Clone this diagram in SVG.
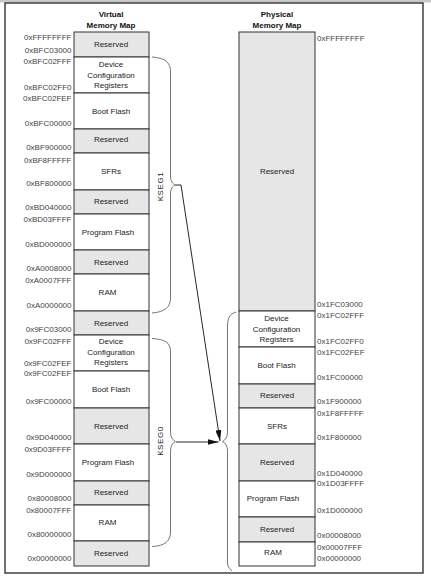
<svg xmlns="http://www.w3.org/2000/svg" width="431" height="580" viewBox="0 0 431 580">
<defs>
<style>
text{font-family:"Liberation Sans",Arial,sans-serif;font-size:8px;fill:#222}
.t{font-weight:bold;text-anchor:middle;fill:#111}
.b{text-anchor:middle}
.al{text-anchor:end;fill:#444}
.ar{text-anchor:start;fill:#444}
.g{fill:#e6e6e6;stroke:#333;stroke-width:1}
.w{fill:#fff;stroke:#333;stroke-width:1}
.br{fill:none;stroke:#666;stroke-width:0.9}
.cn{fill:none;stroke:#111;stroke-width:0.9}
.seg{text-anchor:middle;letter-spacing:0.6px;fill:#222}
</style>
<marker id="ah" markerWidth="11" markerHeight="6" refX="11" refY="3" orient="auto" markerUnits="userSpaceOnUse">
<path d="M0,0 L11,3 L0,6 z" fill="#111"/>
</marker>
</defs>
<rect x="0" y="0" width="431" height="2.5" fill="#c8c8c8"/>
<rect x="5" y="3" width="418" height="570" fill="#fff" stroke="#111" stroke-width="1.2"/>

<text class="t" x="111" y="17">Virtual</text>
<text class="t" x="111" y="27.5">Memory Map</text>
<text class="t" x="277" y="17">Physical</text>
<text class="t" x="277" y="27.5">Memory Map</text>

<g id="virtual-map">
<g id="v-reserved-1"><rect class="g" x="74" y="32" width="75" height="25"/><text class="b" x="111" y="47">Reserved</text></g>
<g id="v-devcfg-1"><rect class="w" x="74" y="57" width="75" height="36"/><text class="b" x="111" y="67">Device</text><text class="b" x="111" y="77.5">Configuration</text><text class="b" x="111" y="88">Registers</text></g>
<g id="v-boot-1"><rect class="w" x="74" y="93" width="75" height="36"/><text class="b" x="111" y="114">Boot Flash</text></g>
<g id="v-reserved-2"><rect class="g" x="74" y="129" width="75" height="24"/><text class="b" x="111" y="142">Reserved</text></g>
<g id="v-sfrs"><rect class="w" x="74" y="153" width="75" height="37"/><text class="b" x="111" y="174">SFRs</text></g>
<g id="v-reserved-3"><rect class="g" x="74" y="190" width="75" height="24"/><text class="b" x="111" y="204">Reserved</text></g>
<g id="v-pflash-1"><rect class="w" x="74" y="214" width="75" height="36"/><text class="b" x="108" y="235">Program Flash</text></g>
<g id="v-reserved-4"><rect class="g" x="74" y="250" width="75" height="24"/><text class="b" x="111" y="265">Reserved</text></g>
<g id="v-ram-1"><rect class="w" x="74" y="274" width="75" height="37"/><text class="b" x="107.5" y="295">RAM</text></g>
<g id="v-reserved-5"><rect class="g" x="74" y="311" width="75" height="24"/><text class="b" x="111" y="326">Reserved</text></g>
<g id="v-devcfg-0"><rect class="w" x="74" y="335" width="75" height="36"/><text class="b" x="111" y="344">Device</text><text class="b" x="111" y="354.5">Configuration</text><text class="b" x="111" y="364.5">Registers</text></g>
<g id="v-boot-0"><rect class="w" x="74" y="371" width="75" height="37"/><text class="b" x="111" y="392">Boot Flash</text></g>
<g id="v-reserved-6"><rect class="g" x="74" y="408" width="75" height="36"/><text class="b" x="111" y="429">Reserved</text></g>
<g id="v-pflash-0"><rect class="w" x="74" y="444" width="75" height="37"/><text class="b" x="108" y="465">Program Flash</text></g>
<g id="v-reserved-7"><rect class="g" x="74" y="481" width="75" height="24"/><text class="b" x="111" y="495">Reserved</text></g>
<g id="v-ram-0"><rect class="w" x="74" y="505" width="75" height="36"/><text class="b" x="107.5" y="525">RAM</text></g>
<g id="v-reserved-8"><rect class="g" x="74" y="541" width="75" height="25"/><text class="b" x="111" y="556">Reserved</text></g>
</g>

<g id="virtual-addresses">
<text class="al" x="71.5" y="39.5">0xFFFFFFFF</text>
<text class="al" x="71.5" y="53">0xBFC03000</text>
<text class="al" x="71.5" y="64">0xBFC02FFF</text>
<text class="al" x="71.5" y="90">0xBFC02FF0</text>
<text class="al" x="71.5" y="101">0xBFC02FEF</text>
<text class="al" x="71.5" y="126">0xBFC00000</text>
<text class="al" x="71.5" y="150">0xBF900000</text>
<text class="al" x="71.5" y="163">0xBF8FFFFF</text>
<text class="al" x="71.5" y="186">0xBF800000</text>
<text class="al" x="71.5" y="210">0xBD040000</text>
<text class="al" x="71.5" y="221.5">0xBD03FFFF</text>
<text class="al" x="71.5" y="246.5">0xBD000000</text>
<text class="al" x="71.5" y="271">0xA0008000</text>
<text class="al" x="71.5" y="283">0xA0007FFF</text>
<text class="al" x="71.5" y="307.5">0xA0000000</text>
<text class="al" x="71.5" y="331.5">0x9FC03000</text>
<text class="al" x="71.5" y="343.5">0x9FC02FFF</text>
<text class="al" x="71.5" y="366">0x9FC02FEF</text>
<text class="al" x="71.5" y="376">0x9FC02FEF</text>
<text class="al" x="71.5" y="404">0x9FC00000</text>
<text class="al" x="71.5" y="440">0x9D040000</text>
<text class="al" x="71.5" y="452">0x9D03FFFF</text>
<text class="al" x="71.5" y="477">0x9D000000</text>
<text class="al" x="71.5" y="501">0x80008000</text>
<text class="al" x="71.5" y="513">0x80007FFF</text>
<text class="al" x="71.5" y="537">0x80000000</text>
<text class="al" x="71.5" y="561">0x00000000</text>
</g>

<g id="physical-map">
<g id="p-reserved-top"><rect class="g" x="239" y="32" width="76" height="279"/><text class="b" x="277" y="174">Reserved</text></g>
<g id="p-devcfg"><rect class="w" x="239" y="311" width="76" height="36"/><text class="b" x="276.5" y="321">Device</text><text class="b" x="276.5" y="332">Configuration</text><text class="b" x="276.5" y="342">Registers</text></g>
<g id="p-boot"><rect class="w" x="239" y="347" width="76" height="37"/><text class="b" x="276.5" y="368">Boot Flash</text></g>
<g id="p-reserved-2"><rect class="g" x="239" y="384" width="76" height="24"/><text class="b" x="277" y="398">Reserved</text></g>
<g id="p-sfrs"><rect class="w" x="239" y="408" width="76" height="36"/><text class="b" x="277" y="428.5">SFRs</text></g>
<g id="p-reserved-3"><rect class="g" x="239" y="444" width="76" height="37"/><text class="b" x="277" y="465">Reserved</text></g>
<g id="p-pflash"><rect class="w" x="239" y="481" width="76" height="36"/><text class="b" x="273" y="501">Program Flash</text></g>
<g id="p-reserved-4"><rect class="g" x="239" y="517" width="76" height="25"/><text class="b" x="277" y="532">Reserved</text></g>
<g id="p-ram"><rect class="w" x="239" y="542" width="76" height="24"/><text class="b" x="273" y="555">RAM</text></g>
</g>

<g id="physical-addresses">
<text class="ar" x="317" y="40.5">0xFFFFFFFF</text>
<text class="ar" x="317" y="307">0x1FC03000</text>
<text class="ar" x="317" y="318">0x1FC02FFF</text>
<text class="ar" x="317" y="343.5">0x1FC02FF0</text>
<text class="ar" x="317" y="355">0x1FC02FEF</text>
<text class="ar" x="317" y="380">0x1FC00000</text>
<text class="ar" x="317" y="404">0x1F900000</text>
<text class="ar" x="317" y="416">0x1F8FFFFF</text>
<text class="ar" x="317" y="440">0x1F800000</text>
<text class="ar" x="317" y="475.5">0x1D040000</text>
<text class="ar" x="317" y="486">0x1D03FFFF</text>
<text class="ar" x="317" y="513">0x1D000000</text>
<text class="ar" x="317" y="538">0x00008000</text>
<text class="ar" x="317" y="549.5">0x00007FFF</text>
<text class="ar" x="317" y="561">0x00000000</text>
</g>

<g id="kseg1">
<path class="br" d="M152,57 C165,58 170.5,62 170.5,72 L170.5,176 C170.5,181 172.5,184 175.5,185 C172.5,186 170.5,189 170.5,194 L170.5,298 C170.5,307 165,312 152,313"/>
<text class="seg" transform="translate(163,186.5) rotate(-90)">KSEG1</text>
</g>
<g id="kseg0">
<path class="br" d="M152,338.5 C165,339.5 170.5,342 170.5,352 L170.5,432 C170.5,437 172.5,440 175.5,441.5 C172.5,443 170.5,446 170.5,451 L170.5,532 C170.5,541 165,546 152,546.5"/>
<text class="seg" transform="translate(163,441) rotate(-90)">KSEG0</text>
</g>
<g id="physical-bracket">
<path class="br" d="M236,312 C229.5,314 227.5,318 227.5,327 L227.5,432 C227.5,437 225.5,440 222.5,441.5 C225.5,443 227.5,446 227.5,451 L227.5,563 C227.5,566 229,568 232,571"/>
</g>

<g id="connectors">
<path class="cn" d="M175.5,185 L181,185 L220,441" marker-end="url(#ah)"/>
<path class="cn" d="M176,442 L218.5,442" marker-end="url(#ah)"/>
</g>
</svg>
